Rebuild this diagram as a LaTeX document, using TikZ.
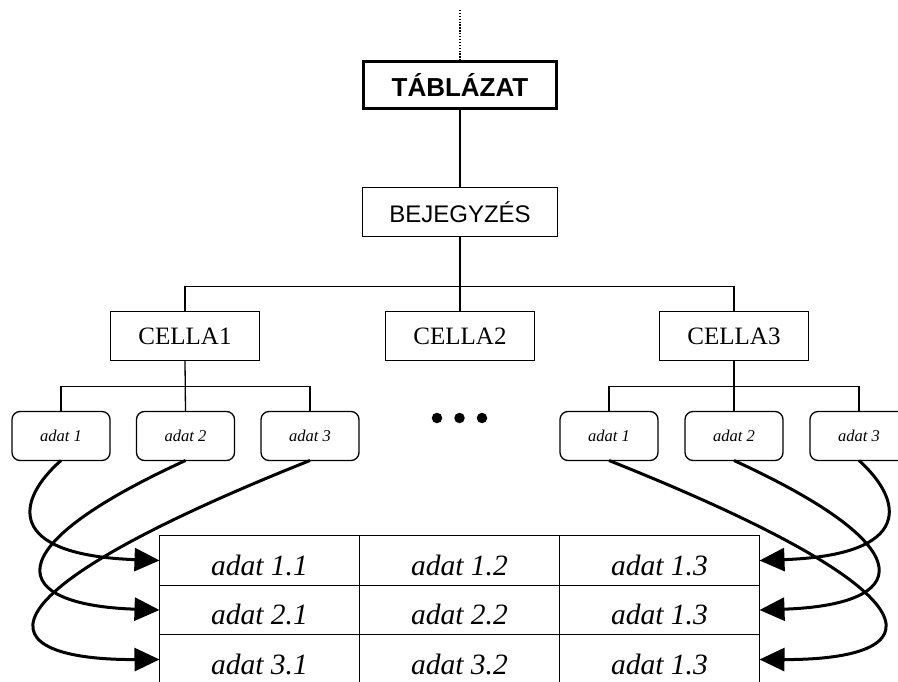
\documentclass[tikz,border=0pt]{standalone}
\usepackage{fontspec}
\setmainfont{Liberation Serif}
\newfontfamily\arialfont{Liberation Sans}
\usetikzlibrary{arrows.meta}

\begin{document}
\begin{tikzpicture}[x=1pt,y=-1pt,
  treeline/.style={line width=1.3pt},
  plainbox/.style={draw, line width=1.3pt, inner sep=0pt, outer sep=0pt,
    minimum height=49pt},
  topbox/.style={plainbox, line width=3.2pt, minimum width=193pt, minimum height=47pt,
    font=\arialfont\bfseries\fontsize{26}{30}\selectfont},
  entrybox/.style={plainbox, minimum width=195pt,
    font=\arialfont\fontsize{24}{28}\selectfont},
  cellbox/.style={plainbox, minimum width=149pt,
    font=\fontsize{25}{29}\selectfont},
  databox/.style={plainbox, rounded corners=8pt, minimum width=98pt,
    font=\itshape\fontsize{16.5}{19}\selectfont},
  tablecell/.style={draw, line width=1.3pt, inner sep=0pt, outer sep=0pt,
    minimum width=200pt, minimum height=49.5pt, text height=29pt, text depth=0pt,
    font=\itshape\fontsize{29.5}{33}\selectfont},
  dotmark/.style={circle, fill, inner sep=0pt, minimum size=10.5pt},
  conn/.style={line width=3pt, -{Triangle[length=25pt,width=23pt]}}
]
\useasboundingbox (0,0) rectangle (898,682);
\clip (0,0) rectangle (898,682);

% hierarchy
\coordinate (up) at (460,10);
\node[topbox]   (tab) at (460,85)  {TÁBLÁZAT};
\node[entrybox] (bej) at (460,212) {BEJEGYZÉS};
\node[cellbox]  (c1)  at (185,336) {CELLA1};
\node[cellbox]  (c2)  at (460,336) {CELLA2};
\node[cellbox]  (c3)  at (734,336) {CELLA3};

\node[databox] (a11) at (61,436)  {adat 1};
\node[databox] (a12) at (185.5,436) {adat 2};
\node[databox] (a13) at (310,436) {adat 3};
\node[databox] (b11) at (609,436) {adat 1};
\node[databox] (b12) at (734,436) {adat 2};
\node[databox] (b13) at (859,436) {adat 3};

\node[dotmark] (d1) at (437,418) {};
\node[dotmark] (d2) at (459.5,418) {};
\node[dotmark] (d3) at (482,418) {};

% tree connectors
\draw[line width=1.3pt, dash pattern=on 1.3pt off 1.6pt] (up) -- (tab.north);
\draw[treeline] (tab.south) -- (bej.north);
\draw[treeline] (bej.south) -- (c2.north);
\draw[treeline] (c1.north) -- ++(0,-25) -| (c3.north);
\draw[treeline] (c1.south) -- (a12.north);
\draw[treeline] (a11.north) -- ++(0,-25) -| (a13.north);
\draw[treeline] (c3.south) -- (b12.north);
\draw[treeline] (b11.north) -- ++(0,-25) -| (b13.north);

% table
\node[tablecell] (r11) at (259.5,560.5) {adat 1.1};
\node[tablecell] (r12) at (459.5,560.5) {adat 1.2};
\node[tablecell] (r13) at (659.5,560.5) {adat 1.3};
\node[tablecell] (r21) at (259.5,610)   {adat 2.1};
\node[tablecell] (r22) at (459.5,610)   {adat 2.2};
\node[tablecell] (r23) at (659.5,610)   {adat 1.3};
\node[tablecell] (r31) at (259.5,659.5) {adat 3.1};
\node[tablecell] (r32) at (459.5,659.5) {adat 3.2};
\node[tablecell] (r33) at (659.5,659.5) {adat 1.3};

% data links into the table
\draw[conn] (a11.south) .. controls (16,500) and (4,555) .. (r11.west);
\draw[conn] (a12.south) .. controls (-10,550) and (10,605) .. (r21.west);
\draw[conn] (a13.south) .. controls (-40,600) and (-10,660) .. (r31.west);
\draw[conn] (b13.south) .. controls (903,500) and (915,555) .. (r13.east);
\draw[conn] (b12.south) .. controls (929,550) and (909,605) .. (r23.east);
\draw[conn] (b11.south) .. controls (959,600) and (929,660) .. (r33.east);
\end{tikzpicture}
\end{document}
